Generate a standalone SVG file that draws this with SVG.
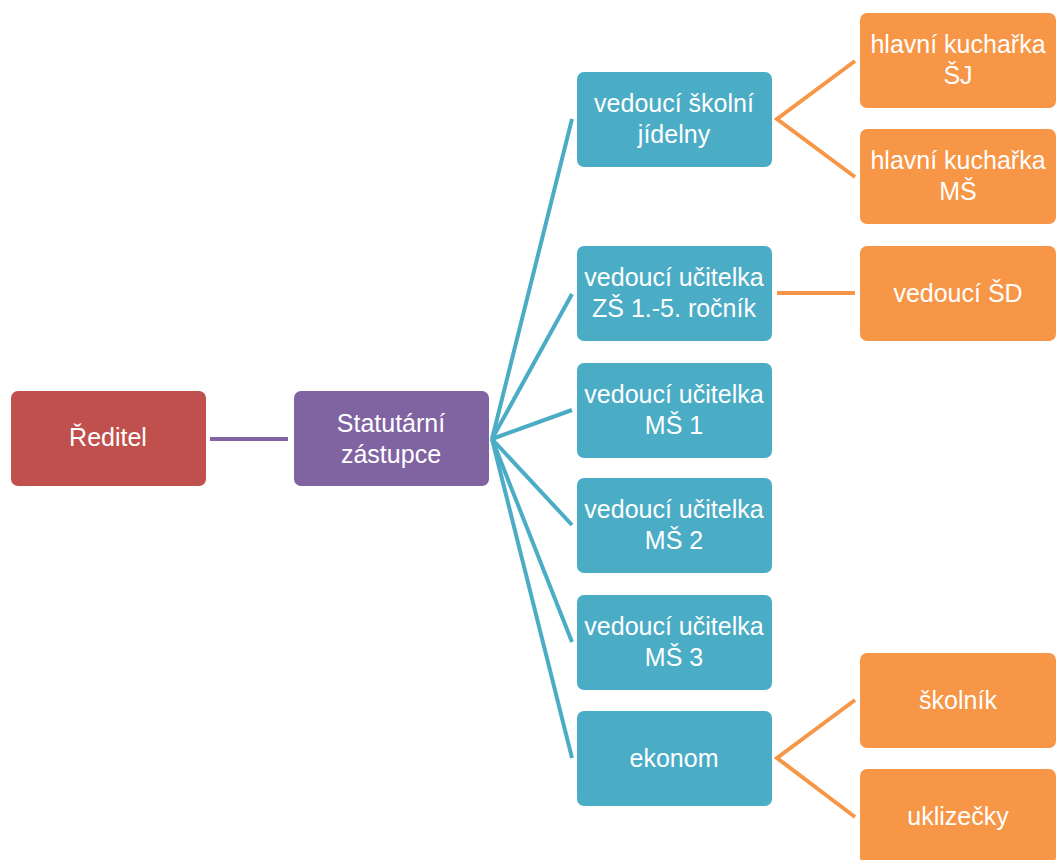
<svg xmlns="http://www.w3.org/2000/svg" width="1056" height="860" viewBox="0 0 1056 860">
<style>
text{font-family:"Liberation Sans",Arial,sans-serif;font-size:25px;fill:#fff;text-anchor:middle}
.red{fill:#C0504D}.pur{fill:#8064A2}.blue{fill:#4BACC6}.ora{fill:#F79646}
.cp{stroke:#8064A2;stroke-width:4;fill:none}
.cb{stroke:#4BACC6;stroke-width:4;fill:none}
.co{stroke:#F79646;stroke-width:4;fill:none;stroke-linejoin:miter}
</style>
<rect width="1056" height="860" fill="#fff"/>
<g id="connectors">
<line class="cp" x1="210" y1="439" x2="288" y2="439"/>
<line class="cb" x1="492" y1="439" x2="572" y2="119"/>
<line class="cb" x1="492" y1="439" x2="572" y2="294"/>
<line class="cb" x1="492" y1="439" x2="572" y2="410"/>
<line class="cb" x1="492" y1="439" x2="572" y2="525"/>
<line class="cb" x1="492" y1="439" x2="572" y2="642"/>
<line class="cb" x1="492" y1="439" x2="572" y2="758"/>
<polyline class="co" points="855,61 777,119 855,177"/>
<line class="co" x1="777" y1="293" x2="855" y2="293"/>
<polyline class="co" points="855,700 777,758 855,817"/>
</g>
<g id="reditel"><rect class="red" x="11" y="391" width="195" height="95" rx="7"/><text x="108" y="446">Ředitel</text></g>
<g id="statutarni"><rect class="pur" x="294" y="391" width="195" height="95" rx="7"/><text x="391" y="432">Statutární</text><text x="391" y="463">zástupce</text></g>
<g id="vedouci-sj"><rect class="blue" x="577" y="72" width="195" height="95" rx="7"/><text x="674" y="112">vedoucí školní</text><text x="674" y="143">jídelny</text></g>
<g id="vedouci-zs"><rect class="blue" x="577" y="246" width="195" height="95" rx="7"/><text x="674" y="286">vedoucí učitelka</text><text x="674" y="317">ZŠ 1.-5. ročník</text></g>
<g id="vedouci-ms1"><rect class="blue" x="577" y="363" width="195" height="95" rx="7"/><text x="674" y="403">vedoucí učitelka</text><text x="674" y="434">MŠ 1</text></g>
<g id="vedouci-ms2"><rect class="blue" x="577" y="478" width="195" height="95" rx="7"/><text x="674" y="518">vedoucí učitelka</text><text x="674" y="549">MŠ 2</text></g>
<g id="vedouci-ms3"><rect class="blue" x="577" y="595" width="195" height="95" rx="7"/><text x="674" y="635">vedoucí učitelka</text><text x="674" y="666">MŠ 3</text></g>
<g id="ekonom"><rect class="blue" x="577" y="711" width="195" height="95" rx="7"/><text x="674" y="767">ekonom</text></g>
<g id="kucharka-sj"><rect class="ora" x="860" y="13" width="196" height="95" rx="7"/><text x="958" y="53">hlavní kuchařka</text><text x="958" y="84">ŠJ</text></g>
<g id="kucharka-ms"><rect class="ora" x="860" y="129" width="196" height="95" rx="7"/><text x="958" y="169">hlavní kuchařka</text><text x="958" y="200">MŠ</text></g>
<g id="vedouci-sd"><rect class="ora" x="860" y="246" width="196" height="95" rx="7"/><text x="958" y="302">vedoucí ŠD</text></g>
<g id="skolnik"><rect class="ora" x="860" y="653" width="196" height="95" rx="7"/><text x="958" y="709">školník</text></g>
<g id="uklizecky"><rect class="ora" x="860" y="769" width="196" height="95" rx="7"/><text x="958" y="825">uklizečky</text></g>
</svg>
